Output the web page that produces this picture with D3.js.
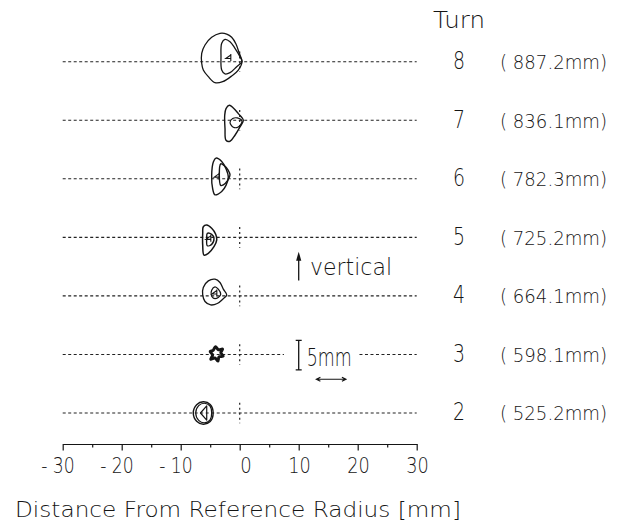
<!DOCTYPE html>
<html><head><meta charset="utf-8">
<script src="https://cdn.jsdelivr.net/npm/d3@7"></script>
<style>
html,body{margin:0;padding:0;background:#fff;}
svg{display:block;}
text{font-family:'DejaVu Sans',sans-serif;font-weight:200;fill:#151515;}
</style></head><body>
<svg id="chart" width="623" height="521"></svg>
<script>
// Turn numbers and the beam radius of each turn
const turns = [8, 7, 6, 5, 4, 3, 2];
const turnRadii = ["887.2", "836.1", "782.3", "725.2", "664.1", "598.1", "525.2"];

// Horizontal axis ticks and their labels (mm from reference radius)
const axisTicks = [-30, -25, -20, -15, -10, -5, 0, 5, 10, 15, 20, 25, 30];
const tickLabels = ["- 30", "", "- 20", "", "- 10", "", "0", "", "10", "", "20", "", "30"];

// Beam contours: [horizontal mm from reference radius, vertical mm above mid-plane]
const outline8 = [[-6.44,-0.27],[-6.44,1.42],[-5.88,2.83],[-4.75,4.14],[-3.34,4.81],[-2.20,4.69],[-1.36,4.14],[-0.63,3.0],[-0.07,1.42],[0.39,0],[-0.24,-1.41],[-1.36,-2.42],[-2.88,-3.39],[-4.19,-3.56],[-5.32,-2.54],[-6.17,-1.41]];
const core8 = [[-3.05,3.12],[-2.49,3.79],[-1.64,3.39],[-0.80,2.27],[0.05,0.85],[0.39,0],[-0.51,-0.85],[-1.64,-1.86],[-2.49,-2.08],[-3.05,-1.41],[-3.17,0.85]];
const outline7 = [[-2.32,1.98],[-1.76,2.54],[-1.08,2.09],[-0.24,1.13],[0.61,0],[0.05,-1.13],[-0.80,-2.54],[-1.64,-3.56],[-2.32,-3.39],[-2.49,-1.41],[-2.54,0.85]];
const loop7 = [[-1.64,-0.39],[-1.19,0.28],[-0.41,0.39],[0.39,-0.17],[-0.24,-1.13],[-1.08,-1.19]];
const outline6 = [[-4.47,2.83],[-4.02,3.51],[-3.05,2.94],[-2.32,1.69],[-1.93,0.29],[-2.32,-1.12],[-3.05,-2.14],[-4.19,-2.71],[-4.58,-1.69],[-4.75,0.58]];
const core6 = [[-3.22,2.54],[-2.66,2.27],[-1.93,1.42],[-1.64,0.68],[-2.03,-0.27],[-2.78,-1.02],[-3.22,-1.12]];
const outline5 = [[-6.17,1.80],[-5.59,2.08],[-4.75,1.53],[-4.07,0.51],[-3.90,-0.46],[-4.36,-1.59],[-5.32,-2.71],[-6.05,-3.0],[-6.27,-1.31],[-6.27,0.68]];
const core5 = [[-5.49,0.68],[-4.75,0.51],[-4.36,-0.17],[-4.75,-1.19],[-5.49,-1.42],[-5.59,-0.17]];
const outline4 = [[-6.17,1.42],[-5.32,2.54],[-4.19,2.83],[-3.34,2.27],[-2.78,1.14],[-2.20,0.17],[-2.88,-0.56],[-3.80,-1.29],[-4.92,-1.53],[-5.88,-0.95],[-6.27,0.17]];
const loop4 = [[-4.75,0.97],[-4.19,1.53],[-3.63,1.14],[-3.22,0.29],[-3.63,-0.27],[-4.47,-0.39],[-4.81,0.17]];
const star3 = [[-4.1,1.3],[-3.6,0.8],[-2.9,0.9],[-3.2,0.3],[-2.8,-0.3],[-3.5,-0.4],[-3.7,-1.1],[-4.2,-0.6],[-4.9,-0.8],[-4.6,-0.1],[-5.0,0.5],[-4.5,0.7]];
const ring2a = [[-6.17,1.9],[-5.0,1.45],[-4.5,0.0],[-5.0,-1.45],[-6.17,-1.9],[-7.3,-1.4],[-7.87,0],[-7.3,1.4]];
const ring2b = [[-6.0,1.65],[-5.05,1.2],[-4.75,0],[-5.05,-1.2],[-6.0,-1.65],[-6.95,-1.25],[-7.45,0],[-6.95,1.25]];
const core2 = [[-5.59,1.2],[-5.59,-1.2],[-6.65,0]];

// Beam-direction flags inside the contours: [turn, mm x, mm y]
const flags = [[8, -1.93, 0.7], [6, -3.9, 0.45], [5, -5.32, -0.17], [4, -4.3, 0.5]];

// Dotted guide segments per turn (mm along the axis)
const guideSegments = [
  [8, -30, 30], [7, -30, 30], [6, -30, 30], [5, -30, 30],
  [4, -30, 30], [3, -30, 7.5], [3, 20.3, 30], [2, -30, 30]
];

const svg = d3.select("#chart");
const ink = "#151515";

const x = d3.scaleLinear().domain([-30, 30]).range([62.7, 416.7]);
const rowY = d3.scaleLinear().domain([2, 8]).range([413, 61.7]);
const pxPerMm = x(1) - x(0);
const dy = d3.scaleLinear().domain([0, 1]).range([0, -pxPerMm]);
const axisY = 444;

// dotted guide lines
svg.append("g").selectAll("line").data(guideSegments).join("line")
  .attr("x1", d => x(d[1])).attr("x2", d => x(d[2]))
  .attr("y1", d => rowY(d[0])).attr("y2", d => rowY(d[0]))
  .attr("stroke", "#222").attr("stroke-width", 1.1).attr("stroke-dasharray", "3,2.5");

// short vertical markers at the reference radius
svg.append("g").selectAll("line").data(turns).join("line")
  .attr("x1", x(0)).attr("x2", x(0))
  .attr("y1", t => rowY(t) + dy(1.75)).attr("y2", t => rowY(t) + dy(-1.75))
  .attr("stroke", "#222").attr("stroke-width", 1.2).attr("stroke-dasharray", "2,3");

// contours
const contours = [
  { turn: 8, pts: outline8, sw: 1.3 }, { turn: 8, pts: core8, sw: 1.3 },
  { turn: 7, pts: outline7, sw: 1.4 }, { turn: 7, pts: loop7, sw: 1.2 },
  { turn: 6, pts: outline6, sw: 1.4 }, { turn: 6, pts: core6, sw: 1.4 },
  { turn: 5, pts: outline5, sw: 1.5 }, { turn: 5, pts: core5, sw: 1.4 },
  { turn: 4, pts: outline4, sw: 1.3 }, { turn: 4, pts: loop4, sw: 1.3 },
  { turn: 3, pts: star3, sw: 3 },
  { turn: 2, pts: ring2a, sw: 1.4 }, { turn: 2, pts: ring2b, sw: 1.2 }, { turn: 2, pts: core2, sw: 1.2 }
];
svg.append("g").selectAll("path").data(contours).join("path")
  .attr("d", c => d3.line()
      .x(p => x(p[0]))
      .y(p => rowY(c.turn) + dy(p[1]))
      .curve(c.pts.length > 3 ? d3.curveCatmullRomClosed.alpha(0.5) : d3.curveLinearClosed)(c.pts))
  .attr("fill", "none").attr("stroke", ink).attr("stroke-width", c => c.sw)
  .attr("stroke-linejoin", "round");

// beam-direction flags
svg.append("g").selectAll("path").data(flags).join("path")
  .attr("d", f => {
    const cx = x(f[1]), cy = rowY(f[0]) + dy(f[2]);
    return `M${cx + 2.5},${cy - 3.5}V${cy + 3.5}M${cx + 2.5},${cy - 2.5}L${cx - 2.5},${cy + 1}L${cx + 2.5},${cy + 1}`;
  })
  .attr("fill", "none").attr("stroke", ink).attr("stroke-width", 1.1);

// axis
const axis = d3.axisBottom(x).tickValues(axisTicks).tickSizeOuter(0).tickSize(0)
  .tickFormat((d, i) => tickLabels[i]);
const gAxis = svg.append("g").attr("transform", `translate(0,${axisY})`).call(axis)
  .attr("font-size", null).attr("font-family", null);
gAxis.select(".domain").attr("stroke", ink).attr("stroke-width", 1.2);
gAxis.selectAll(".tick line").attr("stroke", ink).attr("stroke-width", 1.2)
  .attr("y2", d => d % 10 === 0 ? 6.5 : 3.5);
gAxis.selectAll(".tick text")
  .attr("text-anchor", "end").attr("x", 11.5).attr("y", 28.7).attr("dy", 0)
  .attr("font-size", 21).attr("fill", ink)
  .each(function (d, i) {
    const s = tickLabels[i];
    if (!s) return;
    const w = s.startsWith("-") ? 33.5 : (s.length === 1 ? 11.5 : 22.5);
    d3.select(this).attr("textLength", w).attr("lengthAdjust", "spacingAndGlyphs");
  });

// axis title
svg.append("text").attr("x", 15).attr("y", 516.5).attr("font-size", 21)
  .attr("textLength", 446).attr("lengthAdjust", "spacingAndGlyphs")
  .text("Distance From Reference Radius [mm]");

// turn labels
svg.append("text").attr("x", 433).attr("y", 28).attr("font-size", 23)
  .attr("textLength", 52).attr("lengthAdjust", "spacingAndGlyphs").text("Turn");
svg.append("g").selectAll("text").data(turns).join("text")
  .attr("x", 459).attr("y", t => rowY(t) + 7.4).attr("text-anchor", "middle")
  .attr("font-size", 25).attr("textLength", 12).attr("lengthAdjust", "spacingAndGlyphs")
  .text(t => t);
svg.append("g").selectAll("text").data(turns).join("text")
  .attr("x", 500).attr("y", t => rowY(t) + 7.4)
  .attr("font-size", 20).attr("textLength", 107).attr("lengthAdjust", "spacingAndGlyphs")
  .text((t, i) => `( ${turnRadii[i]}mm)`);

// "vertical" direction arrow, beside turn 4
const ax = x(10);
const aBot = rowY(4) + dy(2.6), aTop = rowY(4) + dy(7.5);
svg.append("line").attr("x1", ax).attr("x2", ax).attr("y1", aBot).attr("y2", aTop + 4)
  .attr("stroke", ink).attr("stroke-width", 1.3);
svg.append("path").attr("d", `M${ax},${aTop}L${ax - 2.6},${aTop + 9}L${ax + 2.6},${aTop + 9}Z`)
  .attr("fill", ink);
svg.append("text").attr("x", 310).attr("y", rowY(4) - 21).attr("font-size", 23)
  .attr("textLength", 82).attr("lengthAdjust", "spacingAndGlyphs").text("vertical");

// 5 mm scale bars, beside turn 3
const bTop = rowY(3) + dy(2.4), bBot = rowY(3) + dy(-2.6);
svg.append("path")
  .attr("d", `M${ax},${bTop}V${bBot}M${ax - 3},${bTop}H${ax + 3}M${ax - 3},${bBot}H${ax + 3}`)
  .attr("fill", "none").attr("stroke", ink).attr("stroke-width", 1.3);
const hy = rowY(3) + dy(-4.2), hx1 = x(13), hx2 = x(18);
svg.append("path")
  .attr("d", `M${hx1},${hy}H${hx2}M${hx1 + 4},${hy - 2}L${hx1},${hy}L${hx1 + 4},${hy + 2}M${hx2 - 4},${hy - 2}L${hx2},${hy}L${hx2 - 4},${hy + 2}`)
  .attr("fill", "none").attr("stroke", ink).attr("stroke-width", 1.2);
svg.append("text").attr("x", 306.7).attr("y", rowY(3) + 12).attr("font-size", 25)
  .attr("textLength", 45).attr("lengthAdjust", "spacingAndGlyphs").text("5mm");
</script>
</body></html>
